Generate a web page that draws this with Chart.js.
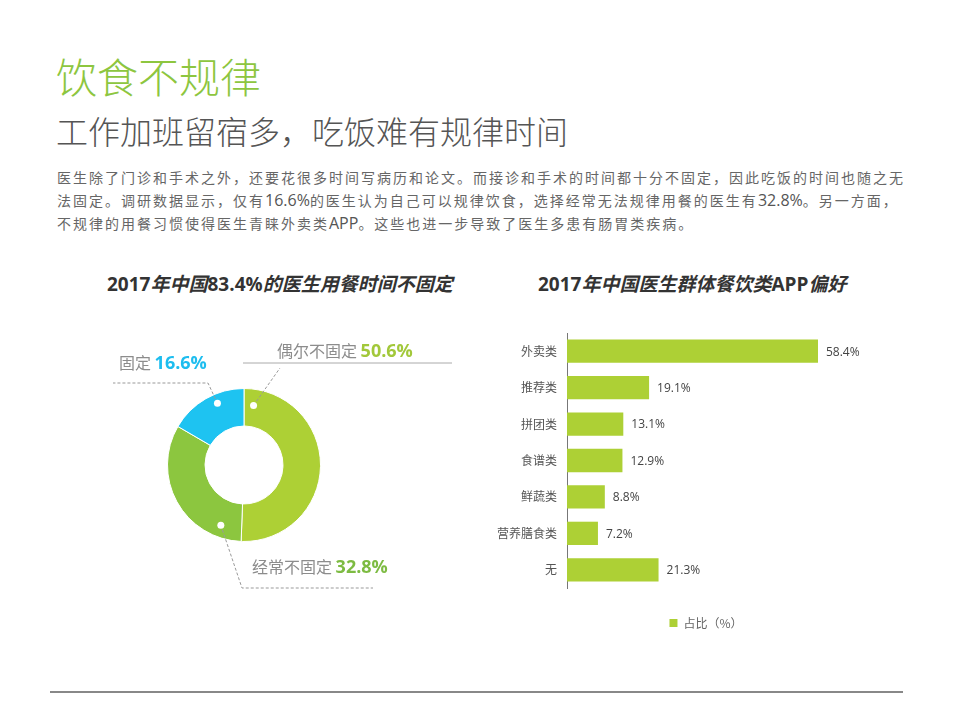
<!DOCTYPE html>
<html>
<head>
<meta charset="utf-8">
<script src="https://cdn.jsdelivr.net/npm/chart.js@4/dist/chart.umd.min.js"></script>
<style>
    body { margin: 0; background: #fff; font-family: "Open Sans", "Noto Sans CJK SC", sans-serif; }
    #page { position: relative; width: 960px; height: 720px; overflow: hidden; }
    .abs { position: absolute; white-space: nowrap; }
    #title { left: 56px; top: 55px; font: 300 41px/41px "Noto Sans CJK SC"; color: #8dc63f; }
    #subtitle { left: 56px; top: 114px; font: 300 32px/32px "Noto Sans CJK SC"; color: #555; }
    #para { left: 57px; top: 167px; font: 14px/22px "Open Sans", "Noto Sans CJK SC"; color: #666; letter-spacing: 2px; }
    #para b { font-weight: normal; font-size: 16px; letter-spacing: 0; color: #555; }
    .ctitle { top: 273px; font: bold 19px/22px "Open Sans", "Noto Sans CJK SC"; color: #333; }
    .ctitle i { font-style: italic; }
    #rule { left: 50px; top: 691px; width: 853px; height: 1.5px; background: #888; }
</style>
</head>
<body>
<div id="page">
    <div id="title" class="abs">饮食不规律</div>
    <div id="subtitle" class="abs">工作加班留宿多，吃饭难有规律时间</div>
    <div id="para" class="abs">医生除了门诊和手术之外，还要花很多时间写病历和论文。而接诊和手术的时间都十分不固定，因此吃饭的时间也随之无<br>法固定。调研数据显示，仅有<b>16.6%</b>的医生认为自己可以规律饮食，选择经常无法规律用餐的医生有<b>32.8%</b>。另一方面，<br>不规律的用餐习惯使得医生青睐外卖类<b>APP</b>。这些也进一步导致了医生多患有肠胃类疾病。</div>
    <div class="abs ctitle" style="left:107px">2017<i>年中国</i>83.4%<i>的医生用餐时间不固定</i></div>
    <div class="abs ctitle" style="left:538px">2017<i>年中国医生群体餐饮类</i>APP<i>偏好</i></div>
    <div class="abs" style="left:90px;top:320px;width:380px;height:290px"><canvas id="mealChart"></canvas></div>
    <div class="abs" style="left:490px;top:320px;width:432px;height:319px"><canvas id="appChart"></canvas></div>
    <div id="rule" class="abs"></div>
</div>
<script>
// doughnut: meal regularity
var mealLabels = ["偶尔不固定", "经常不固定", "固定"];
var mealShares = [50.6, 32.8, 16.6];

// bars: app preference
var appLabels = ["外卖类", "推荐类", "拼团类", "食谱类", "鲜蔬类", "营养膳食类", "无"];
var appShares = [58.4, 19.1, 13.1, 12.9, 8.8, 7.2, 21.3];
var appSeriesName = "占比（%）";

var mealColors = ["#add035", "#8cc63f", "#1ec3f1"];
var mealValueColors = ["#a2c83a", "#7dbb42", "#1dbdef"];
var barColor = "#add035";

// where each callout sits, relative to the doughnut centre (px)
var callouts = [
    { frac: 0.05, rfrac: 0.57, path: [[36, -97]], solid: [[-1, -102], [208, -102]], text: [33, -114] },
    { frac: 0.16, rfrac: 0.68, path: [[-2, 123], [129, 123]], solid: null, text: [8, 102] },
    { frac: 0.61, rfrac: 0.75, path: [[-36, -82], [-131, -82]], solid: null, text: [-125, -102] },
];

var mealCallouts = {
    id: "mealCallouts",
    afterDraw: function (chart) {
        var ctx = chart.ctx;
        var arcs = chart.getDatasetMeta(0).data;
        arcs.forEach(function (arc, i) {
            var p = arc.getProps(["x", "y", "startAngle", "endAngle", "innerRadius", "outerRadius"], true);
            var c = callouts[i];
            var a = p.startAngle + c.frac * (p.endAngle - p.startAngle);
            var r = p.innerRadius + c.rfrac * (p.outerRadius - p.innerRadius);
            var dx = p.x + Math.cos(a) * r;
            var dy = p.y + Math.sin(a) * r;

            ctx.save();
            ctx.strokeStyle = "#999";
            ctx.lineWidth = 1;
            ctx.setLineDash([3, 2]);
            ctx.beginPath();
            ctx.moveTo(dx, dy);
            c.path.forEach(function (pt) { ctx.lineTo(p.x + pt[0], p.y + pt[1]); });
            ctx.stroke();
            if (c.solid) {
                ctx.setLineDash([]);
                ctx.strokeStyle = "#aaa";
                ctx.beginPath();
                ctx.moveTo(p.x + c.solid[0][0], p.y + c.solid[0][1]);
                ctx.lineTo(p.x + c.solid[1][0], p.y + c.solid[1][1]);
                ctx.stroke();
            }
            ctx.setLineDash([]);
            ctx.fillStyle = "#fff";
            ctx.beginPath();
            ctx.arc(dx, dy, 3.5, 0, Math.PI * 2);
            ctx.fill();

            var tx = p.x + c.text[0];
            var ty = p.y + c.text[1];
            ctx.textBaseline = "middle";
            ctx.font = '16px "Noto Sans CJK SC"';
            ctx.fillStyle = "#8c8c8c";
            var name = mealLabels[i] + " ";
            ctx.fillText(name, tx, ty);
            var w = ctx.measureText(name).width;
            ctx.font = 'bold 18px "Open Sans"';
            ctx.fillStyle = mealValueColors[i];
            ctx.fillText(mealShares[i].toFixed(1) + "%", tx + w, ty + 1);
            ctx.restore();
        });
    }
};

var barValues = {
    id: "barValues",
    afterDatasetsDraw: function (chart) {
        var ctx = chart.ctx;
        var meta = chart.getDatasetMeta(0);
        ctx.save();
        ctx.font = '12px "Open Sans"';
        ctx.fillStyle = "#444";
        ctx.textBaseline = "middle";
        meta.data.forEach(function (bar, i) {
            ctx.fillText(appShares[i].toFixed(1) + "%", bar.x + 8, bar.y + 1);
        });
        ctx.restore();
    }
};

function init_meal_chart() {
    var ctx = document.getElementById("mealChart").getContext("2d");
    window.mealChart = new Chart(ctx, {
        type: "doughnut",
        data: {
            labels: mealLabels,
            datasets: [{
                data: mealShares,
                backgroundColor: mealColors,
                borderColor: "#fff",
                borderWidth: 1,
                hoverOffset: 0,
            }],
        },
        options: {
            responsive: true,
            maintainAspectRatio: false,
            animation: false,
            cutout: "51%",
            layout: { padding: { top: 68, bottom: 68, left: 0, right: 72 } },
            plugins: {
                legend: { display: false },
                tooltip: { enabled: false },
            },
        },
        plugins: [mealCallouts],
    });
}

function init_app_chart() {
    var ctx = document.getElementById("appChart").getContext("2d");
    window.appChart = new Chart(ctx, {
        type: "bar",
        data: {
            labels: appLabels,
            datasets: [{
                label: appSeriesName,
                data: appShares,
                backgroundColor: barColor,
                barPercentage: 0.8,
                categoryPercentage: 0.8,
            }],
        },
        options: {
            indexAxis: "y",
            responsive: true,
            maintainAspectRatio: false,
            animation: false,
            layout: { padding: { top: 13, right: 0, left: 0, bottom: 0 } },
            scales: {
                x: { display: false, min: 0, max: 82.6 },
                y: {
                    grid: { display: false },
                    border: { display: true, color: "#777", width: 1 },
                    ticks: { color: "#555", padding: 2, font: { size: 12, family: '"Noto Sans CJK SC"' } },
                    afterFit: function (scale) { scale.width = 77; },
                },
            },
            plugins: {
                legend: {
                    position: "bottom",
                    labels: {
                        boxWidth: 8,
                        boxHeight: 8,
                        padding: 29,
                        color: "#666",
                        font: { size: 12, family: '"Noto Sans CJK SC"' },
                    },
                },
                tooltip: { enabled: false },
            },
        },
        plugins: [barValues],
    });
}

init_meal_chart();
init_app_chart();
</script>
</body>
</html>
